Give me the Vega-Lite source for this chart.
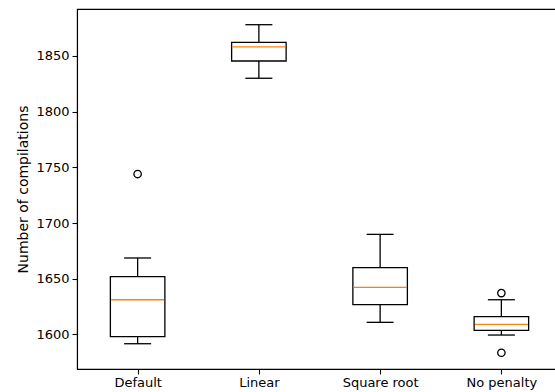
{
  "$schema": "https://vega.github.io/schema/vega-lite/v6.json",
  "autosize": "none",
  "padding": {"left": 77, "top": 9, "right": 0, "bottom": 23},
  "width": 485,
  "height": 360,
  "background": "white",
  "datasets": {
    "boxes": [
      {"scheme": "Default", "lower": 1591.6, "q1": 1597.9, "median": 1631.1, "q3": 1651.8, "upper": 1668.6},
      {"scheme": "Linear", "lower": 1830.0, "q1": 1845.5, "median": 1858.1, "q3": 1862.3, "upper": 1878.1},
      {"scheme": "Square root", "lower": 1610.8, "q1": 1626.7, "median": 1642.2, "q3": 1659.9, "upper": 1689.8},
      {"scheme": "No penalty", "lower": 1599.4, "q1": 1603.6, "median": 1609.0, "q3": 1615.9, "upper": 1631.1}
    ],
    "fliers": [
      {"scheme": "Default", "value": 1744.0},
      {"scheme": "No penalty", "value": 1637.1},
      {"scheme": "No penalty", "value": 1583.5}
    ]
  },
  "encoding": {
    "x": {
      "field": "scheme",
      "type": "nominal",
      "sort": ["Default", "Linear", "Square root", "No penalty"],
      "scale": {"type": "point", "padding": 0.5},
      "axis": {"title": null, "labelAngle": 0, "labelPadding": 2}
    }
  },
  "layer": [
    {
      "data": {"name": "boxes"},
      "mark": {"type": "rule", "color": "black", "strokeWidth": 1.3},
      "encoding": {
        "y": {
          "field": "lower",
          "type": "quantitative",
          "scale": {"domain": [1568.9, 1892.2], "nice": false, "zero": false},
          "axis": {"title": "Number of compilations", "format": "d", "values": [1600, 1650, 1700, 1750, 1800, 1850], "titlePadding": 5, "titleFontSize": 14}
        },
        "y2": {"field": "q1"}
      }
    },
    {
      "data": {"name": "boxes"},
      "mark": {"type": "rule", "color": "black", "strokeWidth": 1.3},
      "encoding": {
        "y": {"field": "q3", "type": "quantitative"},
        "y2": {"field": "upper"}
      }
    },
    {
      "data": {"name": "boxes"},
      "mark": {"type": "bar", "width": 54.5, "fill": "white", "stroke": "black", "strokeWidth": 1.3},
      "encoding": {
        "y": {"field": "q1", "type": "quantitative"},
        "y2": {"field": "q3"}
      }
    },
    {
      "data": {"name": "boxes"},
      "mark": {"type": "tick", "orient": "horizontal", "size": 27, "thickness": 1.3, "color": "black", "opacity": 1},
      "encoding": {"y": {"field": "lower", "type": "quantitative"}}
    },
    {
      "data": {"name": "boxes"},
      "mark": {"type": "tick", "orient": "horizontal", "size": 27, "thickness": 1.3, "color": "black", "opacity": 1},
      "encoding": {"y": {"field": "upper", "type": "quantitative"}}
    },
    {
      "data": {"name": "boxes"},
      "mark": {"type": "tick", "orient": "horizontal", "size": 53, "thickness": 1.3, "color": "#ff7f0e", "opacity": 1},
      "encoding": {"y": {"field": "median", "type": "quantitative"}}
    },
    {
      "data": {"name": "fliers"},
      "mark": {"type": "point", "shape": "circle", "filled": false, "size": 55, "stroke": "black", "strokeWidth": 1.3, "opacity": 1},
      "encoding": {"y": {"field": "value", "type": "quantitative"}}
    }
  ],
  "config": {
    "view": {"stroke": "black", "strokeWidth": 1.1},
    "axis": {
      "grid": false,
      "labelFont": "DejaVu Sans",
      "titleFont": "DejaVu Sans",
      "labelFontSize": 13,
      "titleFontSize": 13,
      "titleFontWeight": "normal",
      "labelColor": "black",
      "titleColor": "black",
      "domainColor": "black",
      "domainWidth": 1.1,
      "tickColor": "black",
      "tickWidth": 1.1,
      "tickSize": 5,
      "labelPadding": 3
    }
  }
}
